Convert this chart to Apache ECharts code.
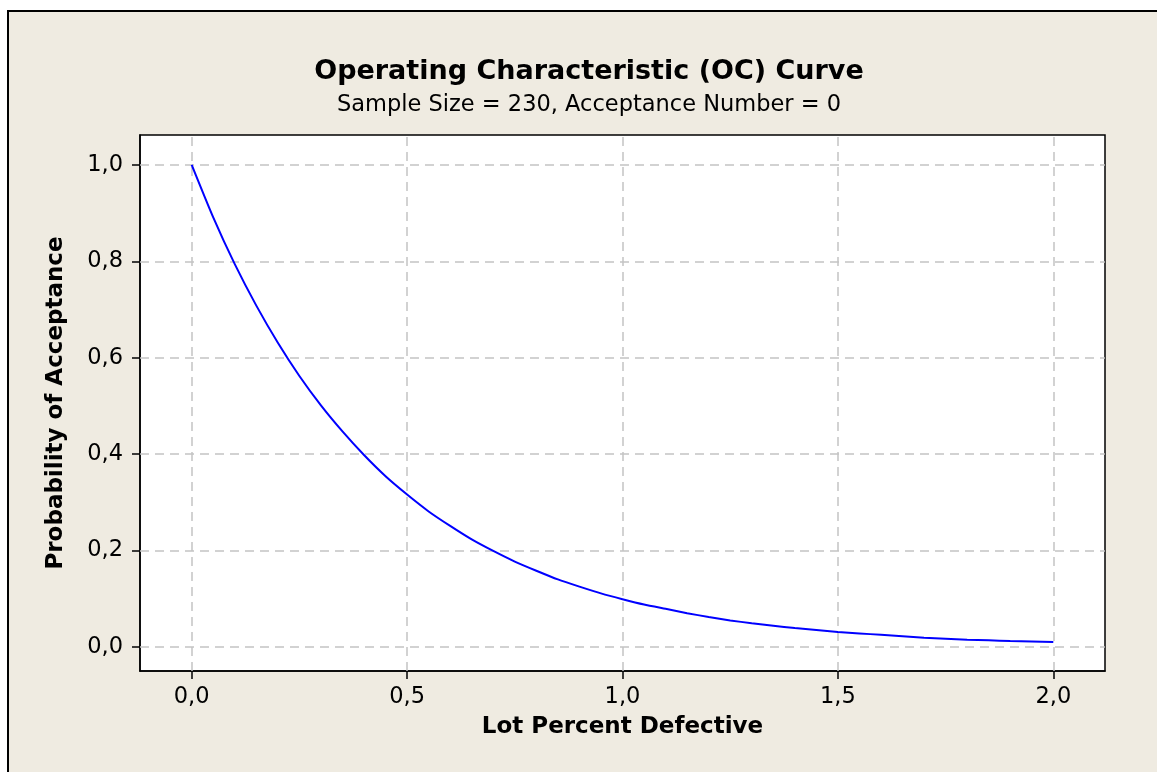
<!DOCTYPE html>
<html>
<head>
<meta charset="utf-8">
<title>OC Curve</title>
<script src="https://cdn.jsdelivr.net/npm/echarts@6/dist/echarts.min.js"></script>
<style>
  html, body { margin: 0; padding: 0; background: #fff; }
  #chart { width: 1157px; height: 772px; }
</style>
</head>
<body>
<div id="chart"></div>
<script>
// lot percent defective (x) and probability of acceptance (y)
const lotPercent = [
  0.00, 0.05, 0.10, 0.15, 0.20, 0.25, 0.30, 0.35, 0.40, 0.45,
  0.50, 0.55, 0.60, 0.65, 0.70, 0.75, 0.80, 0.85, 0.90, 0.95,
  1.00, 1.05, 1.10, 1.15, 1.20, 1.25, 1.30, 1.35, 1.40, 1.45,
  1.50, 1.55, 1.60, 1.65, 1.70, 1.75, 1.80, 1.85, 1.90, 1.95, 2.00
];
const probAccept = [
  1.000, 0.891, 0.794, 0.708, 0.631, 0.562, 0.501, 0.447, 0.398, 0.354,
  0.316, 0.281, 0.251, 0.223, 0.199, 0.177, 0.158, 0.140, 0.125, 0.111,
  0.099, 0.088, 0.079, 0.070, 0.062, 0.055, 0.049, 0.044, 0.039, 0.035,
  0.031, 0.028, 0.025, 0.022, 0.019, 0.017, 0.015, 0.014, 0.012, 0.011, 0.010
];
const xTicks = [0, 0.5, 1.0, 1.5, 2.0];
const yTicks = [0, 0.2, 0.4, 0.6, 0.8, 1.0];
const xTickLabels = ['0,0', '0,5', '1,0', '1,5', '2,0'];
const yTickLabels = ['0,0', '0,2', '0,4', '0,6', '0,8', '1,0'];

const chart = echarts.init(document.getElementById('chart'));
const font = 'DejaVu Sans';

const gridLine = { color: '#c4c4c4', width: 1.5, type: [9, 6] };
const axisBlack = { color: '#000', width: 1.5 };

chart.setOption({
  backgroundColor: '#fff',
  animation: false,
  graphic: [{
    type: 'rect', z: -10, silent: true,
    shape: { x: 8, y: 11, width: 1400, height: 1000 },
    style: { fill: '#efebe1', stroke: '#000', lineWidth: 2 }
  }],
  title: {
    text: 'Operating Characteristic (OC) Curve',
    subtext: 'Sample Size = 230, Acceptance Number = 0',
    left: 584, top: 52, textAlign: 'center', itemGap: 5,
    textStyle: { fontFamily: font, fontWeight: 'bold', fontSize: 27, lineHeight: 30, color: '#000' },
    subtextStyle: { fontFamily: font, fontSize: 22.5, lineHeight: 26, color: '#000' }
  },
  grid: {
    left: 140, top: 135, right: 52, bottom: 101,
    show: true, backgroundColor: '#fff', borderColor: '#000', borderWidth: 1.5
  },
  xAxis: {
    type: 'value', min: -0.12, max: 2.12,
    name: 'Lot Percent Defective', nameLocation: 'middle', nameGap: 45,
    nameTextStyle: { fontFamily: font, fontWeight: 'bold', fontSize: 23, color: '#000' },
    axisLine: { show: true, onZero: false, lineStyle: axisBlack },
    axisTick: { show: true, length: 8, customValues: xTicks, lineStyle: axisBlack },
    axisLabel: {
      customValues: xTicks, margin: 15, fontFamily: font, fontSize: 22.5, color: '#000',
      formatter: v => xTickLabels[xTicks.indexOf(v)]
    },
    splitLine: { show: false }
  },
  yAxis: {
    type: 'value', min: -0.05, max: 1.062,
    name: 'Probability of Acceptance', nameLocation: 'middle', nameGap: 72, nameRotate: 90,
    nameTextStyle: { fontFamily: font, fontWeight: 'bold', fontSize: 23, color: '#000' },
    axisLine: { show: true, onZero: false, lineStyle: axisBlack },
    axisTick: { show: true, length: 8, customValues: yTicks, lineStyle: axisBlack },
    axisLabel: {
      customValues: yTicks, margin: 17, fontFamily: font, fontSize: 22.5, color: '#000',
      formatter: v => yTickLabels[yTicks.indexOf(v)]
    },
    splitLine: { show: false }
  },
  series: [
    {
      // reference grid lines at the tick values
      type: 'line', data: [], z: 1, silent: true,
      markLine: {
        silent: true, symbol: 'none', label: { show: false },
        lineStyle: gridLine,
        data: xTicks.map(v => ({ xAxis: v })).concat(yTicks.map(v => ({ yAxis: v })))
      }
    },
    {
      type: 'line', z: 5,
      data: lotPercent.map((x, i) => [x, probAccept[i]]),
      showSymbol: false, smooth: 0.2,
      lineStyle: { color: '#0000ff', width: 2 }
    }
  ]
});
</script>
</body>
</html>
